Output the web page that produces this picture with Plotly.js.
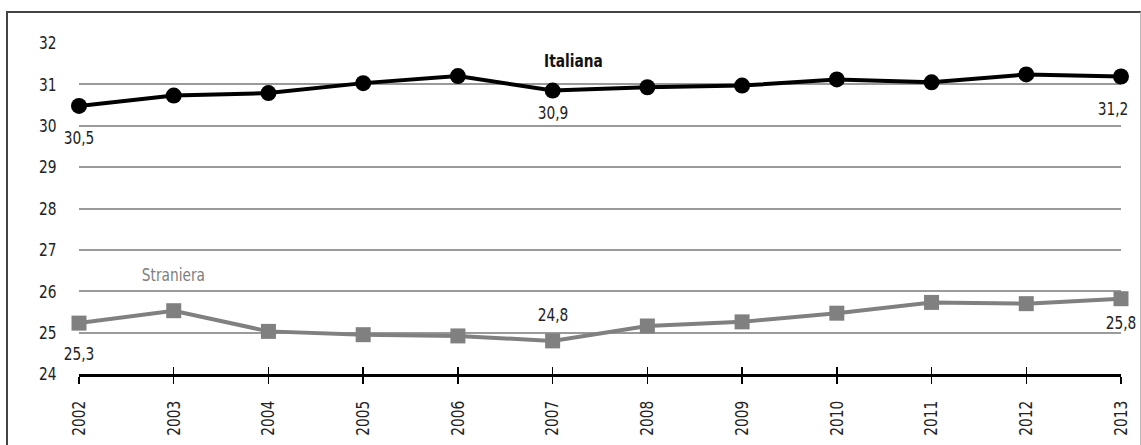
<!DOCTYPE html>
<html>
<head>
<meta charset="utf-8">
<script src="https://cdn.plot.ly/plotly-3.0.1.min.js"></script>
<style>
  html, body { margin: 0; padding: 0; background: #fff; overflow: hidden; }
  #frame { position: absolute; left: 6px; top: 11px; width: 1132px; height: 460px;
           border-left: 2px solid #444; border-top: 2px solid #444; border-right: 1px solid #bbb; }
  #chart { position: absolute; left: 0; top: 0; width: 1141px; height: 445px; }
  #chart text { font-stretch: condensed !important; }
</style>
</head>
<body>
<div id="frame"></div>
<div id="chart"></div>
<script>
const years = [2002, 2003, 2004, 2005, 2006, 2007, 2008, 2009, 2010, 2011, 2012, 2013];
const italiana = [30.48, 30.73, 30.79, 31.03, 31.20, 30.85, 30.93, 30.97, 31.12, 31.05, 31.24, 31.19];
const straniera = [25.23, 25.53, 25.03, 24.95, 24.92, 24.80, 25.16, 25.26, 25.47, 25.73, 25.70, 25.82];
const seriesNames = ["Italiana", "Straniera"];
const italianaLabels = [{year: 2002, text: "30,5"}, {year: 2007, text: "30,9"}, {year: 2013, text: "31,2"}];
const stranieraLabels = [{year: 2002, text: "25,3"}, {year: 2007, text: "24,8"}, {year: 2013, text: "25,8"}];
const yTicks = [24, 25, 26, 27, 28, 29, 30, 31, 32];

const FONT = '"DejaVu Sans", sans-serif';
const FS = 18;
const TEXT_SCALE_X = 0.85;

const traces = [
  {
    x: years, y: italiana, type: 'scatter', mode: 'lines+markers', name: seriesNames[0],
    line: {color: '#000000', width: 4},
    marker: {symbol: 'circle', size: 16, color: '#000000'},
    cliponaxis: false, hoverinfo: 'skip'
  },
  {
    x: years, y: straniera, type: 'scatter', mode: 'lines+markers', name: seriesNames[1],
    line: {color: '#808080', width: 4},
    marker: {symbol: 'square', size: 15, color: '#808080'},
    cliponaxis: false, hoverinfo: 'skip'
  },
  {
    x: years, y: italiana, xaxis: 'x2', type: 'scatter', mode: 'none',
    showlegend: false, hoverinfo: 'skip'
  }
];

const labelOffsets = {
  it: {2002: [0, -32], 2007: [0, -22], 2013: [-8, -32]},
  st: {2002: [0, -30], 2007: [0, 26], 2013: [0, -24]}
};
const idx = y => years.indexOf(y);
const annotations = [];
italianaLabels.forEach(l => annotations.push({
  x: l.year, y: italiana[idx(l.year)], text: l.text, showarrow: false,
  xshift: labelOffsets.it[l.year][0], yshift: labelOffsets.it[l.year][1],
  font: {family: FONT, size: FS, color: '#222'}
}));
stranieraLabels.forEach(l => annotations.push({
  x: l.year, y: straniera[idx(l.year)], text: l.text, showarrow: false,
  xshift: labelOffsets.st[l.year][0], yshift: labelOffsets.st[l.year][1],
  font: {family: FONT, size: FS, color: '#222'}
}));
annotations.push({
  x: 2007.22, y: 31.57, text: '<b>' + seriesNames[0] + '</b>', showarrow: false,
  font: {family: FONT, size: FS, color: '#111'}
});
annotations.push({
  x: 2003.0, y: 26.4, text: seriesNames[1], showarrow: false,
  font: {family: FONT, size: FS, color: '#808080'}
});

const layout = {
  width: 1141, height: 445,
  margin: {l: 79, r: 20, t: 43, b: 71},
  paper_bgcolor: 'rgba(0,0,0,0)', plot_bgcolor: 'rgba(0,0,0,0)',
  showlegend: false,
  font: {family: FONT, size: FS, color: '#222'},
  xaxis: {
    range: [2002, 2013], tickvals: years, ticktext: years.map(String),
    tickangle: -90, showgrid: false, zeroline: false,
    showline: true, linecolor: '#000', linewidth: 2.5,
    ticks: 'outside', ticklen: 7, tickwidth: 1.5, tickcolor: '#000',
    ticklabelstandoff: 7,
    tickfont: {family: FONT, size: FS, color: '#222'}
  },
  xaxis2: {
    overlaying: 'x', range: [2002, 2013], tickvals: years,
    showticklabels: false, showgrid: false, zeroline: false, showline: false,
    ticks: 'inside', ticklen: 7, tickwidth: 1.5, tickcolor: '#000'
  },
  yaxis: {
    range: [24, 32], tickvals: yTicks, ticktext: yTicks.map(String),
    showgrid: true, gridcolor: '#9a9a9a', gridwidth: 2,
    zeroline: false, showline: false, ticks: '',
    ticklabelstandoff: 20,
    tickfont: {family: FONT, size: FS, color: '#222'}
  },
  annotations: annotations
};

// narrow the condensed font a little more (about each text's own centre)
function narrowTexts(gd) {
  gd.querySelectorAll('svg text').forEach(t => {
    if (!t.textContent) return;
    const bb = t.getBBox();
    const ax = bb.x + bb.width / 2;
    const prev = t.getAttribute('transform') || '';
    t.setAttribute('transform',
      (prev + ' translate(' + ax + ',0) scale(' + TEXT_SCALE_X + ',1) translate(' + (-ax) + ',0)').trim());
  });
}

Plotly.newPlot('chart', traces, layout, {staticPlot: true, displayModeBar: false})
  .then(gd => narrowTexts(gd));
</script>
</body>
</html>
